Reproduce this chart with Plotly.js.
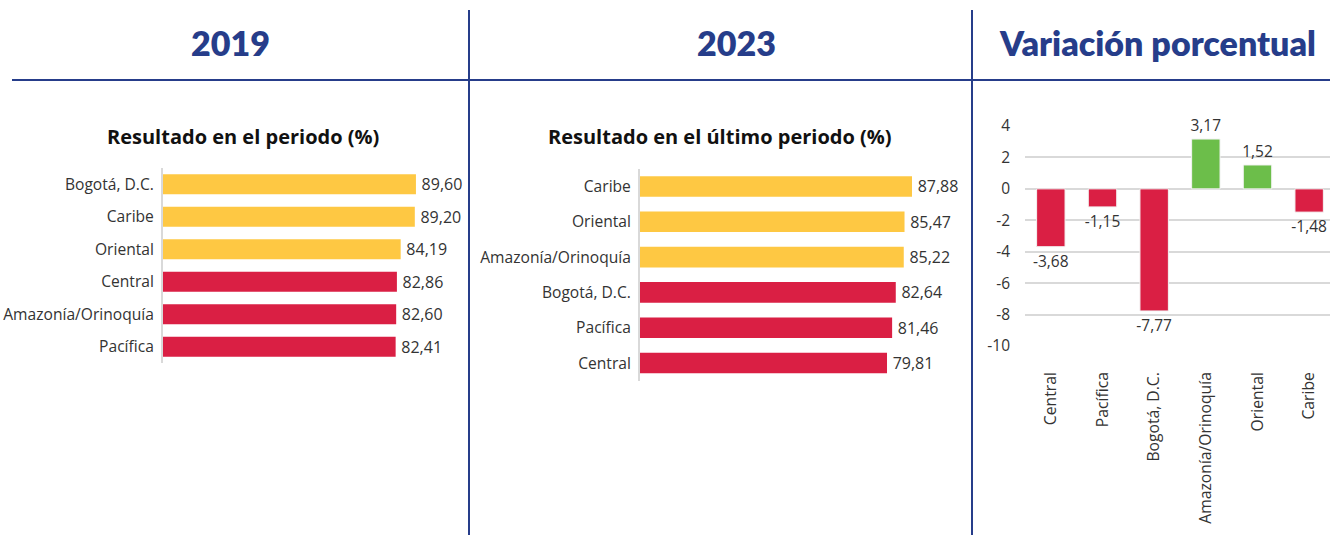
<!DOCTYPE html>
<html><head><meta charset="utf-8">
<script src="https://cdn.plot.ly/plotly-3.0.1.min.js"></script>
<style>html,body{margin:0;padding:0;overflow:hidden;background:#fff}</style>
</head><body><div id="chart"></div>
<script>
// Panel 1: 2019
const cats2019 = ["Bogotá, D.C.", "Caribe", "Oriental", "Central", "Amazonía/Orinoquía", "Pacífica"];
const vals2019 = [89.60, 89.20, 84.19, 82.86, 82.60, 82.41];
const col2019 = ["yellow", "yellow", "yellow", "red", "red", "red"];
// Panel 2: 2023
const cats2023 = ["Caribe", "Oriental", "Amazonía/Orinoquía", "Bogotá, D.C.", "Pacífica", "Central"];
const vals2023 = [87.88, 85.47, 85.22, 82.64, 81.46, 79.81];
const col2023 = ["yellow", "yellow", "yellow", "red", "red", "red"];
// Panel 3: variation
const catsVar = ["Central", "Pacífica", "Bogotá, D.C.", "Amazonía/Orinoquía", "Oriental", "Caribe"];
const valsVar = [-3.68, -1.15, -7.77, 3.17, 1.52, -1.48];
const varTicks = [4, 2, 0, -2, -4, -6, -8, -10];
const headers = ["2019", "2023", "Variación porcentual"];
const subtitles = ["Resultado en el periodo (%)", "Resultado en el último periodo (%)"];

const W = 1335, H = 535;
const YEL = "#FEC843", RED = "#DA1F44", GRN = "#6CBE4A", NAVY = "#263D8A";
const HFONT = "Lato, sans-serif";
const FONT = "'Open Sans', sans-serif";
const cmap = {yellow: YEL, red: RED};
const fmt = v => v.toFixed(2).replace(".", ",");
const px = (a, b) => [a / W, b / W];
const py = (top, bottom) => [1 - bottom / H, 1 - top / H];

const traces = [
  {type: "bar", orientation: "h", x: vals2019, y: cats2019, xaxis: "x", yaxis: "y",
   marker: {color: col2019.map(c => cmap[c])}, width: 0.62,
   text: vals2019.map(v => "\u2009" + fmt(v)), textposition: "outside", cliponaxis: false, constraintext: "none",
   textfont: {family: FONT, size: 16, color: "#333"}, hoverinfo: "skip"},
  {type: "bar", orientation: "h", x: vals2023, y: cats2023, xaxis: "x2", yaxis: "y2",
   marker: {color: col2023.map(c => cmap[c])}, width: 0.585,
   text: vals2023.map(v => "\u2009" + fmt(v)), textposition: "outside", cliponaxis: false, constraintext: "none",
   textfont: {family: FONT, size: 16, color: "#333"}, hoverinfo: "skip"},
  {type: "bar", x: catsVar, y: valsVar, xaxis: "x3", yaxis: "y3",
   marker: {color: valsVar.map(v => v >= 0 ? GRN : RED), line: {color: "#f3f3f3", width: 1}}, width: 0.55,
   text: valsVar.map(fmt), textposition: "outside", cliponaxis: false, constraintext: "none",
   textfont: {family: FONT, size: 15.5, color: "#333"}, hoverinfo: "skip"}
];

const catAxis = {type: "category", autorange: "reversed", showgrid: false, showline: true,
  linecolor: "#d9d9d9", linewidth: 2, ticks: "", ticklabelstandoff: 4,
  tickfont: {family: FONT, size: 15.6, color: "#333"}, fixedrange: true};
const valAxis = {range: [0, 100], visible: false, fixedrange: true};

const layout = {
  width: W, height: H, margin: {l: 0, r: 0, t: 0, b: 0},
  paper_bgcolor: "#fff", plot_bgcolor: "rgba(0,0,0,0)", showlegend: false,
  font: {family: FONT},
  xaxis: Object.assign({}, valAxis, {domain: px(163, 445.3), anchor: "y"}),
  yaxis: Object.assign({}, catAxis, {domain: py(168, 363), anchor: "x"}),
  xaxis2: Object.assign({}, valAxis, {domain: px(640, 949.5), anchor: "y2"}),
  yaxis2: Object.assign({}, catAxis, {domain: py(168.8, 380.7), anchor: "x2"}),
  xaxis3: {domain: px(1025, 1335), anchor: "y3", type: "category", showgrid: false, showline: false,
    ticks: "", tickangle: -90, ticklabelstandoff: 22, zeroline: false,
    tickfont: {family: FONT, size: 15.7, color: "#333"}, fixedrange: true},
  yaxis3: {domain: py(126, 346), anchor: "x3", range: [-10, 4], tickvals: varTicks,
    ticktext: varTicks.map(String), showgrid: true, gridcolor: "#d9d9d9", gridwidth: 2,
    zeroline: true, zerolinecolor: "#d9d9d9", zerolinewidth: 2, showline: false,
    ticks: "", ticklabelstandoff: 14, tickfont: {family: FONT, size: 15.5, color: "#333"}, fixedrange: true},
  shapes: [
    {type: "line", xref: "paper", yref: "paper", x0: 12 / W, x1: 1, y0: 1 - 80 / H, y1: 1 - 80 / H,
     line: {color: NAVY, width: 2}},
    {type: "line", xref: "paper", yref: "paper", x0: 469 / W, x1: 469 / W, y0: 0, y1: 1 - 10 / H,
     line: {color: NAVY, width: 2}},
    {type: "line", xref: "paper", yref: "paper", x0: 972 / W, x1: 972 / W, y0: 0, y1: 1 - 10 / H,
     line: {color: NAVY, width: 2}}
  ],
  annotations: [
    {text: headers[0], x: 230 / W, y: 1 - 42 / H},
    {text: headers[1], x: 736 / W, y: 1 - 42 / H},
    {text: headers[2], x: 1157 / W, y: 1 - 42 / H}
  ].map(a => Object.assign(a, {xref: "paper", yref: "paper", showarrow: false, xanchor: "center", yanchor: "middle",
    font: {family: HFONT, size: 34, color: NAVY, weight: 800}})).concat([
    {text: subtitles[0], x: 243 / W, y: 1 - 137 / H},
    {text: subtitles[1], x: 720 / W, y: 1 - 137 / H}
  ].map(a => Object.assign(a, {xref: "paper", yref: "paper", showarrow: false, xanchor: "center", yanchor: "middle",
    font: {family: FONT, size: 20, color: "#111", weight: 700}})))
};

Plotly.newPlot("chart", traces, layout, {displayModeBar: false, staticPlot: true});
</script></body></html>
